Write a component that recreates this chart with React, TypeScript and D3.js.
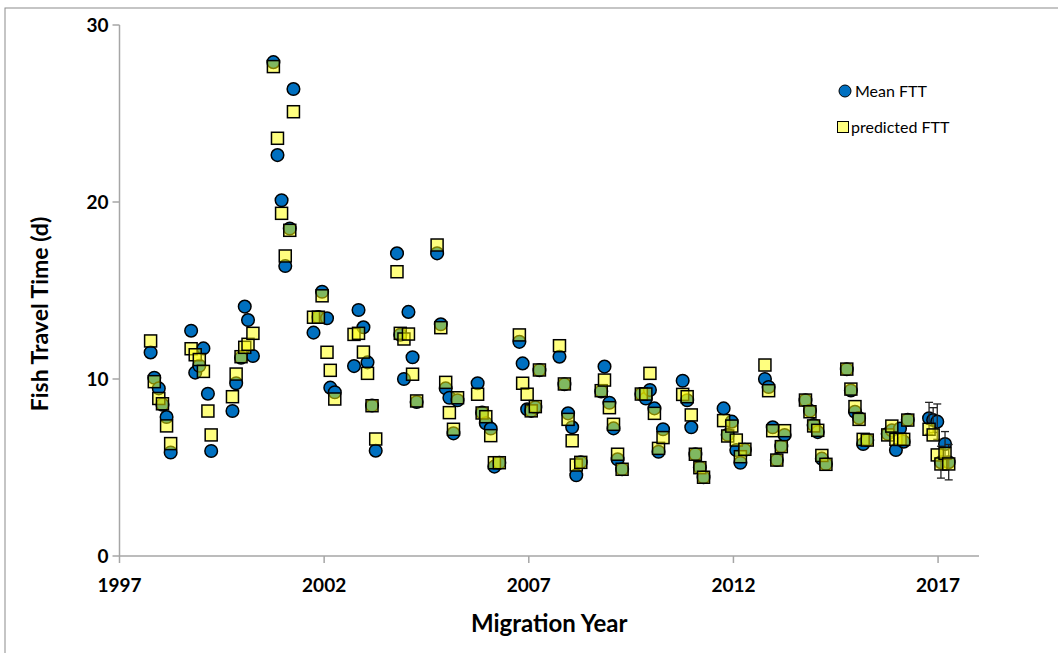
import React from "react";
import * as d3 from "d3";

// Release dates (fractional migration year) shared by both series
const dates: number[] = [
  1997.76, 1997.85, 1997.96, 1998.05, 1998.15, 1998.25,
  1998.75, 1998.85, 1998.95, 1999.05, 1999.16, 1999.24,
  1999.76, 1999.85, 1999.97, 2000.06, 2000.14, 2000.26,
  2000.76, 2000.86, 2000.96, 2001.05, 2001.16, 2001.25,
  2001.74, 2001.86, 2001.95, 2002.07, 2002.15, 2002.26,
  2002.73, 2002.84, 2002.96, 2003.06, 2003.17, 2003.26,
  2003.78, 2003.86, 2003.95, 2004.06, 2004.16, 2004.26,
  2004.76, 2004.85, 2004.97, 2005.06, 2005.16, 2005.26,
  2005.75, 2005.86, 2005.95, 2006.07, 2006.16, 2006.28,
  2006.77, 2006.85, 2006.96, 2007.06, 2007.16, 2007.26,
  2007.75, 2007.87, 2007.96, 2008.06, 2008.16, 2008.27,
  2008.77, 2008.85, 2008.97, 2009.07, 2009.17, 2009.28,
  2009.75, 2009.86, 2009.96, 2010.07, 2010.17, 2010.28,
  2010.76, 2010.87, 2010.97, 2011.07, 2011.18, 2011.27,
  2011.76, 2011.86, 2011.96, 2012.07, 2012.17, 2012.28,
  2012.77, 2012.86, 2012.96, 2013.06, 2013.17, 2013.25,
  2013.76, 2013.87, 2013.96, 2014.06, 2014.16, 2014.26,
  2014.77, 2014.87, 2014.97, 2015.07, 2015.17, 2015.27,
  2015.77, 2015.87, 2015.97, 2016.07, 2016.16, 2016.26,
  2016.78, 2016.88, 2016.98, 2017.07, 2017.17, 2017.26,
];

// Observed mean fish travel time (days)
const meanFTT: number[] = [
  11.5, 10.07, 9.47, 8.55, 7.85, 5.85,
  12.73, 10.36, 10.75, 11.73, 9.17, 5.93,
  8.19, 9.76, 11.2, 14.09, 13.33, 11.3,
  27.9, 22.65, 20.1, 16.38, 18.5, 26.38,
  12.62, 13.5, 14.93, 13.43, 9.51, 9.25,
  10.73, 13.9, 12.92, 10.94, 8.5, 5.95,
  17.1, 12.5, 10.0, 13.79, 11.23, 8.7,
  17.1, 13.09, 9.47, 8.94, 6.93, 8.8,
  9.76, 8.1, 7.5, 7.2, 5.05, 5.27,
  12.1, 10.88, 8.29, 8.2, 8.4, 10.5,
  11.26, 9.7, 8.06, 7.27, 4.56, 5.3,
  9.3, 10.7, 8.66, 7.21, 5.46, 4.9,
  9.15, 8.9, 9.38, 8.34, 5.89, 7.16,
  9.9, 8.8, 7.27, 5.75, 5.0, 4.45,
  8.34, 6.85, 7.59, 5.99, 5.27, 6.0,
  10.0, 9.55, 7.27, 5.42, 6.2, 6.84,
  8.8, 8.2, 7.4, 7.0, 5.5, 5.2,
  10.55, 9.35, 8.15, 7.8, 6.33, 6.55,
  6.9, 7.1, 5.99, 7.2, 6.46, 7.7,
  7.78, 7.68, 7.59, 5.3, 6.33, 5.3,
];

// Model-predicted fish travel time (days)
const predictedFTT: number[] = [
  12.15, 9.85, 8.9, 8.6, 7.35, 6.35,
  11.71, 11.37, 11.1, 10.43, 8.19, 6.84,
  9.0, 10.28, 11.26, 11.79, 11.96, 12.58,
  27.65, 23.6, 19.36, 16.95, 18.4, 25.1,
  13.49, 13.49, 14.7, 11.51, 10.49, 8.87,
  12.52, 12.58, 11.52, 10.32, 8.49, 6.61,
  16.06, 12.58, 12.26, 12.54, 10.27, 8.76,
  17.57, 12.9, 9.81, 8.1, 7.16, 8.94,
  9.14, 8.08, 7.87, 6.8, 5.27, 5.27,
  12.49, 9.76, 9.14, 8.2, 8.44, 10.51,
  11.88, 9.72, 7.72, 6.51, 5.14, 5.29,
  9.34, 9.94, 8.38, 7.44, 5.75, 4.9,
  9.15, 9.15, 10.32, 8.06, 6.08, 6.69,
  9.13, 9.0, 7.97, 5.75, 4.99, 4.45,
  7.65, 6.78, 7.34, 6.55, 5.61, 6.03,
  10.79, 9.34, 7.08, 5.42, 6.18, 7.08,
  8.81, 8.15, 7.35, 7.1, 5.68, 5.18,
  10.56, 9.43, 8.44, 7.72, 6.59, 6.55,
  6.84, 7.34, 6.59, 6.59, 6.59, 7.68,
  7.16, 6.84, 5.71, 5.2, 5.8, 5.2,
];

// Error bars on the 2017 mean values (index into the arrays above)
const errorIndex: number[] = [114, 115, 116, 117, 118, 119];
const errorSize: number[] = [0.9, 0.7, 1.0, 0.9, 0.7, 1.0];

const xTicks: number[] = [1997, 2002, 2007, 2012, 2017];
const yTicks: number[] = [0, 10, 20, 30];

const W = 1058;
const H = 653;
const FONT = "Lato, 'Open Sans', sans-serif";

export default function App() {
  const x = d3.scaleLinear().domain([1997, 2018]).range([119.5, 979]);
  const y = d3.scaleLinear().domain([0, 30]).range([556, 25]);
  const axisColor = "#a6a6a6";

  return (
    <svg
      width={W}
      height={H}
      style={{ position: "absolute", left: 0, top: 0, background: "#fff" }}
      fontFamily={FONT}
    >
      {/* chart frame */}
      <rect x={5} y={8} width={W + 10} height={H + 10} fill="#fff" stroke="#8c8c8c" strokeWidth={1} />

      {/* y axis */}
      <line x1={x(1997)} x2={x(1997)} y1={y(30)} y2={y(0)} stroke={axisColor} strokeWidth={1.5} />
      {yTicks.map((t) => (
        <g key={"y" + t}>
          <line x1={x(1997) - 7} x2={x(1997)} y1={y(t)} y2={y(t)} stroke={axisColor} strokeWidth={1.5} />
          <text x={x(1997) - 11} y={y(t)} dy="0.35em" textAnchor="end" fontSize={19} fontWeight="bold" fill="#000">
            {t}
          </text>
        </g>
      ))}

      {/* x axis */}
      <line x1={x(1997)} x2={x(2018)} y1={y(0)} y2={y(0)} stroke={axisColor} strokeWidth={1.5} />
      {xTicks.map((t) => (
        <g key={"x" + t}>
          <line x1={x(t)} x2={x(t)} y1={y(0)} y2={y(0) + 7} stroke={axisColor} strokeWidth={1.5} />
          <text x={x(t)} y={592} textAnchor="middle" fontSize={19} fontWeight="bold" fill="#000">
            {t}
          </text>
        </g>
      ))}

      {/* axis titles */}
      <text x={(x(1997) + x(2018)) / 2} y={632} textAnchor="middle" fontSize={24} fontWeight="bold" fill="#000">
        Migration Year
      </text>
      <text
        transform={`translate(48, 314) rotate(-90)`}
        textAnchor="middle"
        fontSize={23}
        fontWeight="bold"
        fill="#000"
      >
        Fish Travel Time (d)
      </text>

      {/* observed means */}
      {dates.map((d, i) => (
        <circle key={"m" + i} cx={x(d)} cy={y(meanFTT[i])} r={6.3} fill="#0070c0" stroke="#000" strokeWidth={1.5} />
      ))}

      {/* error bars */}
      {errorIndex.map((idx, k) => {
        const cx = x(dates[idx]);
        const hi = y(meanFTT[idx] + errorSize[k]);
        const lo = y(meanFTT[idx] - errorSize[k]);
        return (
          <g key={"e" + k} stroke="#222" strokeWidth={1.3}>
            <line x1={cx} x2={cx} y1={hi} y2={lo} />
            <line x1={cx - 4} x2={cx + 4} y1={hi} y2={hi} />
            <line x1={cx - 4} x2={cx + 4} y1={lo} y2={lo} />
          </g>
        );
      })}

      {/* predicted values */}
      {dates.map((d, i) => (
        <rect
          key={"p" + i}
          x={x(d) - 6}
          y={y(predictedFTT[i]) - 6}
          width={12}
          height={12}
          fill="rgba(255,255,0,0.5)"
          stroke="#000"
          strokeWidth={1.5}
        />
      ))}

      {/* legend */}
      <circle cx={845} cy={91} r={6} fill="#0070c0" stroke="#000" strokeWidth={1} />
      <text x={855} y={91} dy="0.35em" fontSize={16} fill="#000">
        Mean FTT
      </text>
      <rect x={837.5} y={121.5} width={11} height={11} fill="#ffff80" stroke="#000" strokeWidth={1} />
      <text x={851} y={127} dy="0.35em" fontSize={16} fill="#000">
        predicted FTT
      </text>
    </svg>
  );
}
